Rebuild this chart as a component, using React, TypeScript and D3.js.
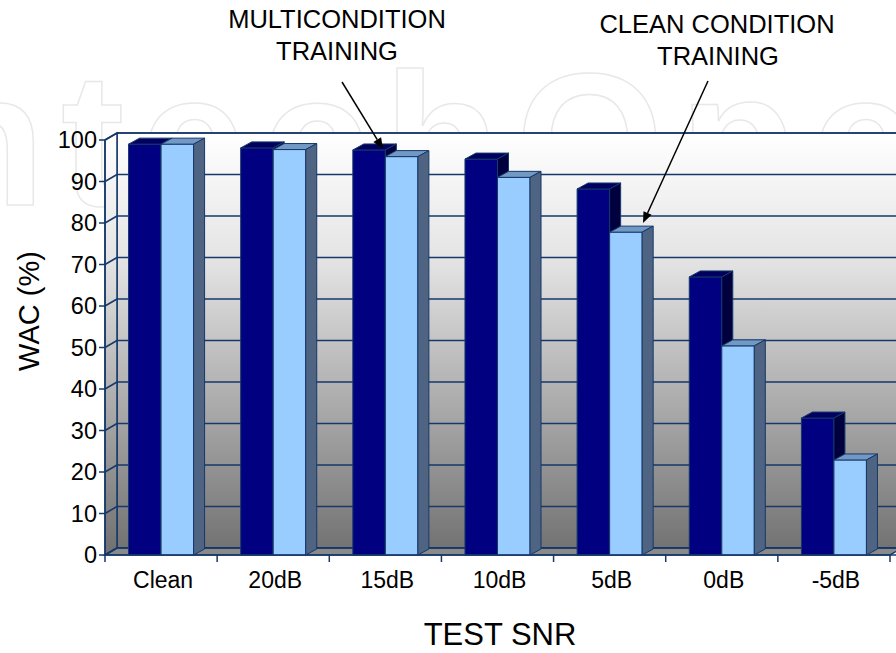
import * as d3 from 'd3';

// category labels and WAC values (%)
const categories = ['Clean', '20dB', '15dB', '10dB', '5dB', '0dB', '-5dB'];
const multiCondition = [99.0, 98.1, 97.6, 95.4, 88.2, 67.0, 33.0];
const cleanCondition = [99.0, 97.7, 96.0, 91.0, 77.8, 50.4, 22.9];
const yTicks = [0, 10, 20, 30, 40, 50, 60, 70, 80, 90, 100];

const W = 896;
const H = 653;
const FONT = "'Liberation Sans', Arial, sans-serif";
const NAVY = '#16386a';

// 3d offsets
const wallDx = 12;
const wallDy = 7;
const barDx = 11;
const barDy = 6;

const series = [
  { values: multiCondition, front: '#000080', top: '#000060', side: '#00003f' },
  { values: cleanCondition, front: '#99ccff', top: '#7299c4', side: '#4e6482' },
];

export default function App() {
  const x = d3.scaleBand<string>().domain(categories).range([105, 890]);
  const y = d3.scaleLinear().domain([0, 100]).range([555, 140]);
  const bw = x.bandwidth();
  const groupW = bw * 0.58;
  const sub = d3.scaleBand<number>().domain([0, 1]).range([0, groupW]);

  const x0 = x.range()[0];
  const x1 = x.range()[1];
  const bx0 = x0 + wallDx;
  const bx1 = x1 + wallDx;
  const pts = (p: number[][]) => p.map((d) => d.join(',')).join(' ');

  return (
    <svg width={W} height={H} style={{ display: 'block', position: 'absolute', left: 0, top: 0 }}>
      <defs>
        <linearGradient id="wall" gradientUnits="userSpaceOnUse" x1="0" y1={y(100) - wallDy} x2="0" y2={y(0)}>
          <stop offset="0" stopColor="#ffffff" />
          <stop offset="0.3" stopColor="#e4e4e4" />
          <stop offset="1" stopColor="#707070" />
        </linearGradient>
      </defs>
      <rect width={W} height={H} fill="#fff" />

      {/* faint watermark behind the chart */}
      <text
        x={-71}
        y={205}
        fontFamily={FONT}
        fontWeight="bold"
        fontSize={190}
        letterSpacing={16}
        fill="none"
        stroke="#e8e8e8"
        strokeWidth={1.5}
      >
        ntechOpe
      </text>

      {/* back wall */}
      <rect
        x={bx0}
        y={y(100) - wallDy}
        width={bx1 - bx0}
        height={y(0) - y(100)}
        fill="url(#wall)"
        stroke={NAVY}
        strokeWidth={1.5}
      />
      {/* side wall */}
      <polygon
        points={pts([
          [x0, y(100)],
          [bx0, y(100) - wallDy],
          [bx0, y(0) - wallDy],
          [x0, y(0)],
        ])}
        fill="url(#wall)"
        stroke={NAVY}
        strokeWidth={1.5}
      />
      {/* floor */}
      <polygon
        points={pts([
          [x0, y(0)],
          [bx0, y(0) - wallDy],
          [bx1, y(0) - wallDy],
          [x1, y(0)],
        ])}
        fill="#8a8a8a"
        stroke={NAVY}
        strokeWidth={1.5}
      />
      {/* gridlines */}
      {yTicks.map((t) => (
        <g key={t}>
          <line x1={bx0} x2={bx1} y1={y(t) - wallDy} y2={y(t) - wallDy} stroke={NAVY} strokeWidth={1.5} />
          <line x1={x0} x2={bx0} y1={y(t)} y2={y(t) - wallDy} stroke={NAVY} strokeWidth={1.5} />
        </g>
      ))}

      {/* bars */}
      {categories.map((c, i) => {
        const gx = (x(c) ?? 0) + (bw - groupW) / 2;
        return (
          <g key={c}>
            {series.map((s, k) => {
              const l = gx + (sub(k) ?? 0);
              const r = l + sub.bandwidth();
              const t = y(s.values[i]);
              const b = y(0);
              return (
                <g key={k} stroke={NAVY} strokeWidth={1} strokeLinejoin="round">
                  <rect x={l} y={t} width={r - l} height={b - t} fill={s.front} />
                  <polygon
                    points={pts([
                      [l, t],
                      [l + barDx, t - barDy],
                      [r + barDx, t - barDy],
                      [r, t],
                    ])}
                    fill={s.top}
                  />
                  <polygon
                    points={pts([
                      [r, t],
                      [r + barDx, t - barDy],
                      [r + barDx, b - barDy],
                      [r, b],
                    ])}
                    fill={s.side}
                  />
                </g>
              );
            })}
          </g>
        );
      })}

      {/* front axes */}
      <line x1={x0} x2={x0} y1={y(0)} y2={y(100)} stroke={NAVY} strokeWidth={1.5} />
      <line x1={x0} x2={W} y1={y(0)} y2={y(0)} stroke={NAVY} strokeWidth={1.5} />
      {yTicks.map((t) => (
        <g key={t}>
          <line x1={x0 - 6} x2={x0} y1={y(t)} y2={y(t)} stroke={NAVY} strokeWidth={1.5} />
          <text
            x={x0 - 8}
            y={y(t)}
            dy="0.35em"
            textAnchor="end"
            fontFamily={FONT}
            fontSize={23.5}
            fill="#000"
          >
            {t}
          </text>
        </g>
      ))}
      {[...categories.map((c) => x(c) ?? 0), x1].map((v, i) => (
        <line key={i} x1={v} x2={v} y1={y(0)} y2={y(0) + 7} stroke={NAVY} strokeWidth={1.5} />
      ))}
      {categories.map((c) => (
        <text
          key={c}
          x={(x(c) ?? 0) + bw / 2 + 2}
          y={588}
          textAnchor="middle"
          fontFamily={FONT}
          fontSize={23}
          fill="#000"
        >
          {c}
        </text>
      ))}

      {/* axis titles */}
      <text x={500} y={645} textAnchor="middle" fontFamily={FONT} fontSize={31} fill="#000">
        TEST SNR
      </text>
      <text
        transform="translate(39,311) rotate(-90)"
        textAnchor="middle"
        fontFamily={FONT}
        fontSize={29}
        fill="#000"
      >
        WAC (%)
      </text>

      {/* annotations */}
      <g fontFamily={FONT} fontSize={25.5} fill="#000" textAnchor="middle">
        <text x={337} y={28}>MULTICONDITION</text>
        <text x={337} y={60}>TRAINING</text>
        <text x={717} y={33}>CLEAN CONDITION</text>
        <text x={718} y={65}>TRAINING</text>
      </g>
      <Arrow x1={342} y1={82} x2={383} y2={149} />
      <Arrow x1={708} y1={81} x2={643} y2={223} />
    </svg>
  );
}

function Arrow({ x1, y1, x2, y2 }: { x1: number; y1: number; x2: number; y2: number }) {
  const a = Math.atan2(y2 - y1, x2 - x1);
  const len = 11;
  const half = 4.5;
  const bxp = x2 - len * Math.cos(a);
  const byp = y2 - len * Math.sin(a);
  const p1 = [bxp + half * Math.sin(a), byp - half * Math.cos(a)];
  const p2 = [bxp - half * Math.sin(a), byp + half * Math.cos(a)];
  return (
    <g>
      <line x1={x1} y1={y1} x2={bxp} y2={byp} stroke="#000" strokeWidth={1.5} />
      <polygon points={`${x2},${y2} ${p1.join(',')} ${p2.join(',')}`} fill="#000" />
    </g>
  );
}
